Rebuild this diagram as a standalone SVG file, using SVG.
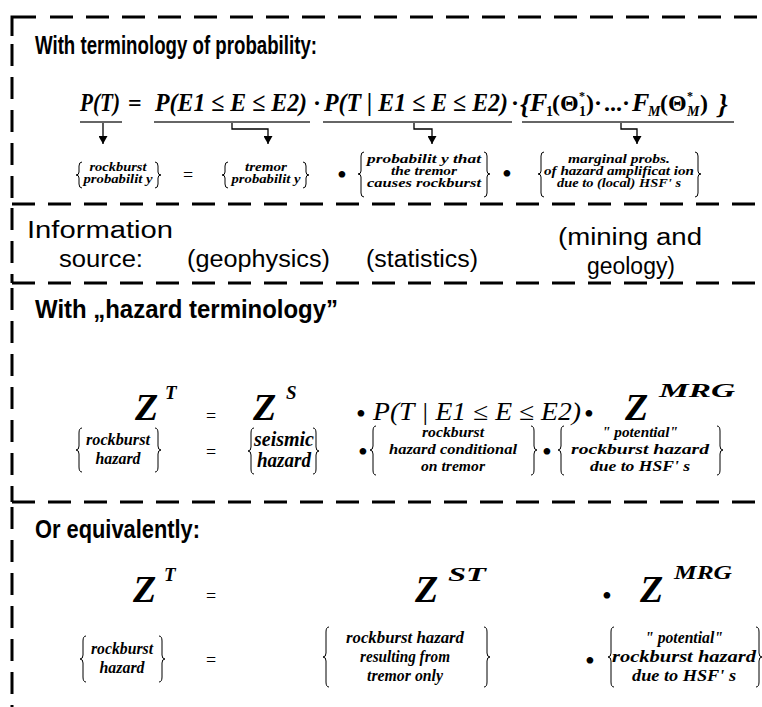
<svg xmlns="http://www.w3.org/2000/svg" width="762" height="707" viewBox="0 0 762 707">
<style>
.hd{stroke:#000;stroke-width:3;stroke-dasharray:23 13;fill:none}
.vd{stroke:#000;stroke-width:3;stroke-dasharray:22 11;fill:none}
.sol{stroke:#000;stroke-width:3;fill:none}
.h{font-family:"Liberation Sans",Arial,sans-serif;font-weight:bold;font-size:26px}
.info{font-family:"Liberation Sans",Arial,sans-serif;font-size:23px}
.eq{font-family:"Liberation Serif","Times New Roman",serif;font-weight:bold;font-style:italic;font-size:26px}
.eqn{font-family:"Liberation Serif","Times New Roman",serif;font-weight:bold;font-size:24px}
.sub{font-family:"Liberation Serif","Times New Roman",serif;font-weight:bold;font-size:14px}
.subi{font-family:"Liberation Serif","Times New Roman",serif;font-weight:bold;font-style:italic;font-size:14px}
.eqi{font-family:"Liberation Serif","Times New Roman",serif;font-style:italic;font-size:25px}
.z{font-family:"Liberation Serif","Times New Roman",serif;font-weight:bold;font-style:italic;font-size:38px}
.sup{font-family:"Liberation Serif","Times New Roman",serif;font-weight:bold;font-style:italic;font-size:19px}
.l1{font-family:"Liberation Serif","Times New Roman",serif;font-weight:bold;font-style:italic;font-size:12.5px;text-anchor:middle}
.l3{font-family:"Liberation Serif","Times New Roman",serif;font-weight:bold;font-style:italic;font-size:15px;text-anchor:middle}
.l4{font-family:"Liberation Serif","Times New Roman",serif;font-weight:bold;font-style:italic;font-size:16px;text-anchor:middle}
.l5{font-family:"Liberation Serif","Times New Roman",serif;font-weight:bold;font-style:italic;font-size:17px;text-anchor:middle}
.l6{font-family:"Liberation Serif","Times New Roman",serif;font-weight:bold;font-style:italic;font-size:21px;text-anchor:middle}
.br{fill:none;stroke:#000;stroke-width:1}
.ul{stroke:#666;stroke-width:2}
.ar{stroke:#000;stroke-width:1.3;fill:none;marker-end:url(#ah)}
.eqs{font-family:"Liberation Serif","Times New Roman",serif;font-size:18px;text-anchor:middle}
.bul{font-family:"Liberation Serif","Times New Roman",serif;font-size:28px;text-anchor:middle}
.cd{font-family:"Liberation Serif","Times New Roman",serif;font-weight:bold;font-size:24px;text-anchor:middle}
</style>
<defs>
<marker id="ah" markerUnits="userSpaceOnUse" markerWidth="9" markerHeight="9" refX="8" refY="4.5" orient="auto">
<path d="M0,0 L8,4.5 L0,9 z" fill="#000"/>
</marker>
</defs>
<rect width="762" height="707" fill="#fff"/>

<g id="frame">
<path class="sol" d="M12,36 V17 H36"/>
<path class="hd" d="M50,17 H762"/>
<path class="vd" d="M12,44 V204"/>
<path class="hd" d="M12,204 H762"/>
<path class="vd" d="M12,208 V283"/>
<path class="hd" d="M12,283 H762"/>
<path class="vd" d="M12,288 V502"/>
<path class="hd" d="M12,502 H762"/>
<path class="vd" d="M12,507 V707"/>
</g>

<g id="section-probability">
<text class="h" x="35" y="54" textLength="282" lengthAdjust="spacingAndGlyphs">With terminology of probability:</text>
<text class="eq" x="80" y="111" textLength="40" lengthAdjust="spacingAndGlyphs">P(T)</text>
<text class="eqn" x="128" y="111">=</text>
<text class="eq" x="155" y="111" textLength="152" lengthAdjust="spacingAndGlyphs">P(E1 ≤ E ≤ E2)</text>
<text class="cd" x="317" y="111">·</text>
<text class="eq" x="324" y="111" textLength="184" lengthAdjust="spacingAndGlyphs">P(T | E1 ≤ E ≤ E2)</text>
<text class="cd" x="515" y="111">·</text>
<g id="f-group">
<text class="eq" x="520" y="113" style="font-size:28px">{</text>
<text class="eq" x="530" y="111">F</text>
<text class="sub" x="546" y="116">1</text>
<text class="eqn" x="552" y="111">(</text>
<text class="eqn" x="560" y="111">Θ</text>
<text class="sub" x="579" y="100" style="font-size:12px">*</text>
<text class="sub" x="579" y="116">1</text>
<text class="eqn" x="586" y="111">)</text>
<text class="cd" x="598" y="111">·</text>
<text class="eqn" x="604" y="111">...</text>
<text class="cd" x="626" y="111">·</text>
<text class="eq" x="632" y="111">F</text>
<text class="subi" x="648" y="116">M</text>
<text class="eqn" x="660" y="111">(</text>
<text class="eqn" x="668" y="111">Θ</text>
<text class="sub" x="687" y="100" style="font-size:12px">*</text>
<text class="subi" x="687" y="116">M</text>
<text class="eqn" x="700" y="111">)</text>
<text class="eq" x="718" y="113" style="font-size:28px">}</text>
</g>
<line class="ul" x1="80" y1="122" x2="122" y2="122"/>
<line class="ul" x1="154" y1="122" x2="310" y2="122"/>
<line class="ul" x1="323" y1="122" x2="512" y2="122"/>
<line class="ul" x1="522" y1="122" x2="734" y2="122"/>
</g>

<g id="connectors">
<path class="ar" d="M103,123 V144"/>
<path class="ar" d="M232,123 V129 H268 V144"/>
<path class="ar" d="M414,123 V129 H432 V144"/>
<path class="ar" d="M621,123 V129 H637 V144"/>
</g>

<g id="rockburst-probability">
<path class="br" d="M82,162 Q79,162 79,166 L79,172 Q79,175 76,175 Q79,175 79,178 L79,184 Q79,188 82,188"/>
<text class="l1" x="118" y="171" textLength="57" lengthAdjust="spacingAndGlyphs">rockburst</text>
<text class="l1" x="118" y="183" textLength="69" lengthAdjust="spacingAndGlyphs">probabilit y</text>
<path class="br" d="M155,162 Q158,162 158,166 L158,172 Q158,175 161,175 Q158,175 158,178 L158,184 Q158,188 155,188"/>
</g>
<text class="eqs" x="188" y="181">=</text>
<g id="tremor-probability">
<path class="br" d="M228,162 Q225,162 225,166 L225,172 Q225,175 222,175 Q225,175 225,178 L225,184 Q225,188 228,188"/>
<text class="l1" x="266" y="171" textLength="42" lengthAdjust="spacingAndGlyphs">tremor</text>
<text class="l1" x="266" y="183" textLength="69" lengthAdjust="spacingAndGlyphs">probabilit y</text>
<path class="br" d="M303,162 Q306,162 306,166 L306,172 Q306,175 309,175 Q306,175 306,178 L306,184 Q306,188 303,188"/>
</g>
<text class="bul" x="342" y="184">•</text>
<g id="prob-tremor-rockburst">
<path class="br" d="M364,152 Q361,152 361,156 L361,171 Q361,174 358,174 Q361,174 361,177 L361,193 Q361,197 364,197"/>
<text class="l1" x="424" y="163" textLength="114" lengthAdjust="spacingAndGlyphs">probabilit y that</text>
<text class="l1" x="424" y="175" textLength="66" lengthAdjust="spacingAndGlyphs">the tremor</text>
<text class="l1" x="424" y="187" textLength="114" lengthAdjust="spacingAndGlyphs">causes rockburst</text>
<path class="br" d="M484,152 Q487,152 487,156 L487,171 Q487,174 490,174 Q487,174 487,177 L487,193 Q487,197 484,197"/>
</g>
<text class="bul" x="507" y="183">•</text>
<g id="marginal-probs">
<path class="br" d="M544,152 Q541,152 541,156 L541,171 Q541,174 538,174 Q541,174 541,177 L541,193 Q541,197 544,197"/>
<text class="l1" x="619" y="163" textLength="102" lengthAdjust="spacingAndGlyphs">marginal  probs.</text>
<text class="l1" x="619" y="175" textLength="150" lengthAdjust="spacingAndGlyphs">of  hazard amplificat ion</text>
<text class="l1" x="619" y="187" textLength="124" lengthAdjust="spacingAndGlyphs">due to (local) HSF' s</text>
<path class="br" d="M695,152 Q698,152 698,156 L698,171 Q698,174 701,174 Q698,174 698,177 L698,193 Q698,197 695,197"/>
</g>

<g id="section-source">
<text class="info" x="27" y="238" textLength="146" lengthAdjust="spacingAndGlyphs">Information</text>
<text class="info" x="59" y="267" textLength="84" lengthAdjust="spacingAndGlyphs">source:</text>
<text class="info" x="187" y="267" textLength="143" lengthAdjust="spacingAndGlyphs">(geophysics)</text>
<text class="info" x="366" y="267" textLength="112" lengthAdjust="spacingAndGlyphs">(statistics)</text>
<text class="info" x="558" y="245" textLength="144" lengthAdjust="spacingAndGlyphs">(mining and</text>
<text class="info" x="587" y="274" textLength="88" lengthAdjust="spacingAndGlyphs">geology)</text>
</g>

<g id="section-hazard">
<text class="h" x="35" y="318" textLength="303" lengthAdjust="spacingAndGlyphs">With „hazard terminology”</text>
<text class="z" x="135" y="420">Z</text><text class="sup" x="165" y="399">T</text>
<text class="eqs" x="211" y="422">=</text>
<text class="z" x="253" y="420">Z</text><text class="sup" x="286" y="399">S</text>
<text class="bul" x="361" y="423">•</text>
<text class="eqi" x="373" y="420" textLength="208" lengthAdjust="spacingAndGlyphs">P(T | E1 ≤ E ≤ E2)</text>
<text class="bul" x="589" y="423">•</text>
<text class="z" x="625" y="420">Z</text><text class="sup" x="659" y="397" textLength="76" lengthAdjust="spacingAndGlyphs">MRG</text>
</g>
<g id="rockburst-hazard-1">
<path class="br" d="M82,428 Q79,428 79,433 L79,446 Q79,450 76,450 Q79,450 79,454 L79,467 Q79,472 82,472"/>
<text class="l4" x="118" y="445" textLength="64" lengthAdjust="spacingAndGlyphs">rockburst</text>
<text class="l4" x="118" y="464" textLength="45" lengthAdjust="spacingAndGlyphs">hazard</text>
<path class="br" d="M155,428 Q158,428 158,433 L158,446 Q158,450 161,450 Q158,450 158,454 L158,467 Q158,472 155,472"/>
</g>
<text class="eqs" x="211" y="458">=</text>
<g id="seismic-hazard">
<path class="br" d="M254,428 Q251,428 251,433 L251,447 Q251,451 248,451 Q251,451 251,455 L251,469 Q251,474 254,474"/>
<text class="l6" x="284" y="446" textLength="60" lengthAdjust="spacingAndGlyphs">seismic</text>
<text class="l6" x="284" y="467" textLength="54" lengthAdjust="spacingAndGlyphs">hazard</text>
<path class="br" d="M313,428 Q316,428 316,433 L316,447 Q316,451 319,451 Q316,451 316,455 L316,469 Q316,474 313,474"/>
</g>
<text class="bul" x="363" y="461">•</text>
<g id="conditional-hazard">
<path class="br" d="M376,426 Q373,426 373,431 L373,446 Q373,450 370,450 Q373,450 373,454 L373,470 Q373,475 376,475"/>
<text class="l3" x="453" y="437" textLength="62" lengthAdjust="spacingAndGlyphs">rockburst</text>
<text class="l3" x="453" y="454" textLength="128" lengthAdjust="spacingAndGlyphs">hazard conditional</text>
<text class="l3" x="453" y="471" textLength="64" lengthAdjust="spacingAndGlyphs">on tremor</text>
<path class="br" d="M531,426 Q534,426 534,431 L534,446 Q534,450 537,450 Q534,450 534,454 L534,470 Q534,475 531,475"/>
</g>
<text class="bul" x="547" y="461">•</text>
<g id="potential-hazard-1">
<path class="br" d="M564,426 Q561,426 561,431 L561,446 Q561,450 558,450 Q561,450 561,454 L561,470 Q561,475 564,475"/>
<text class="l3" x="640" y="437" textLength="76" lengthAdjust="spacingAndGlyphs">" potential"</text>
<text class="l3" x="640" y="454" textLength="138" lengthAdjust="spacingAndGlyphs">rockburst hazard</text>
<text class="l3" x="640" y="471" textLength="100" lengthAdjust="spacingAndGlyphs">due to HSF' s</text>
<path class="br" d="M717,426 Q720,426 720,431 L720,446 Q720,450 723,450 Q720,450 720,454 L720,470 Q720,475 717,475"/>
</g>

<g id="section-equivalent">
<text class="h" x="35" y="538" textLength="165" lengthAdjust="spacingAndGlyphs">Or equivalently:</text>
<text class="z" x="133" y="602">Z</text><text class="sup" x="164" y="581">T</text>
<text class="eqs" x="211" y="602">=</text>
<text class="z" x="415" y="602">Z</text><text class="sup" x="448" y="581" textLength="38" lengthAdjust="spacingAndGlyphs">ST</text>
<text class="bul" x="607" y="605">•</text>
<text class="z" x="640" y="602">Z</text><text class="sup" x="674" y="579" textLength="58" lengthAdjust="spacingAndGlyphs">MRG</text>
</g>
<g id="rockburst-hazard-2">
<path class="br" d="M86,636 Q83,636 83,641 L83,655 Q83,659 80,659 Q83,659 83,663 L83,677 Q83,682 86,682"/>
<text class="l5" x="122" y="654" textLength="62" lengthAdjust="spacingAndGlyphs">rockburst</text>
<text class="l5" x="122" y="673" textLength="45" lengthAdjust="spacingAndGlyphs">hazard</text>
<path class="br" d="M159,636 Q162,636 162,641 L162,655 Q162,659 165,659 Q162,659 162,663 L162,677 Q162,682 159,682"/>
</g>
<text class="eqs" x="211" y="666">=</text>
<g id="tremor-only-hazard">
<path class="br" d="M329,627 Q326,627 326,632 L326,653 Q326,657 323,657 Q326,657 326,661 L326,682 Q326,687 329,687"/>
<text class="l4" x="405" y="643" textLength="118" lengthAdjust="spacingAndGlyphs">rockburst hazard</text>
<text class="l4" x="405" y="662" textLength="90" lengthAdjust="spacingAndGlyphs">resulting  from</text>
<text class="l4" x="405" y="681" textLength="76" lengthAdjust="spacingAndGlyphs">tremor only</text>
<path class="br" d="M484,627 Q487,627 487,632 L487,653 Q487,657 490,657 Q487,657 487,661 L487,682 Q487,687 484,687"/>
</g>
<text class="bul" x="590" y="670">•</text>
<g id="potential-hazard-2">
<path class="br" d="M614,627 Q611,627 611,632 L611,653 Q611,657 608,657 Q611,657 611,661 L611,682 Q611,687 614,687"/>
<text class="l4" x="684" y="643" textLength="78" lengthAdjust="spacingAndGlyphs">" potential"</text>
<text class="l4" x="684" y="662" textLength="144" lengthAdjust="spacingAndGlyphs">rockburst hazard</text>
<text class="l4" x="684" y="681" textLength="104" lengthAdjust="spacingAndGlyphs">due to HSF' s</text>
<path class="br" d="M756,627 Q759,627 759,632 L759,653 Q759,657 762,657 Q759,657 759,661 L759,682 Q759,687 756,687"/>
</g>
</svg>
